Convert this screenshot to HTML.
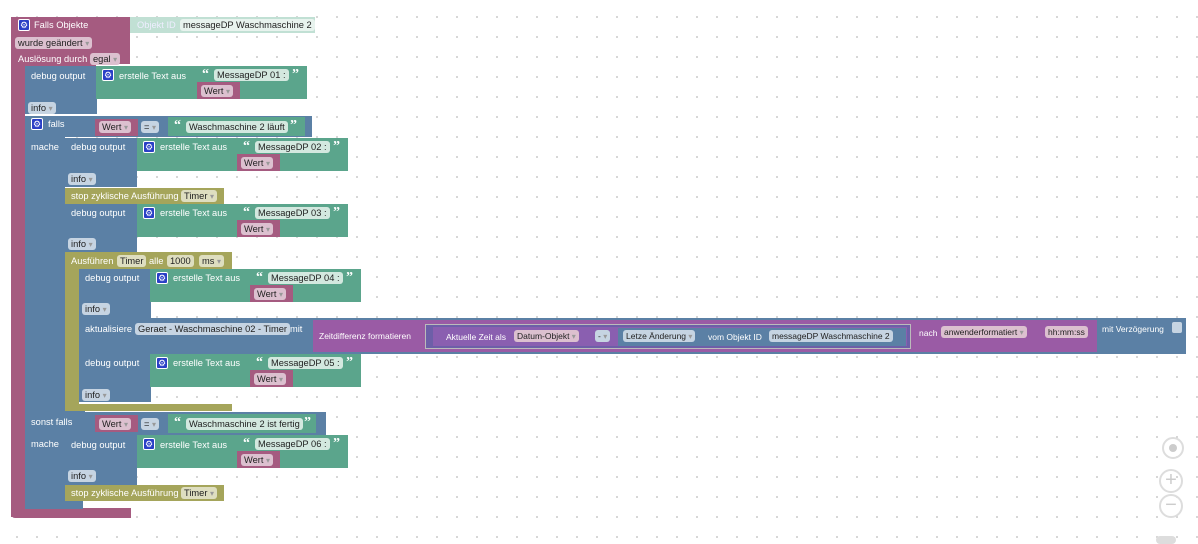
<!DOCTYPE html>
<html><head><meta charset="utf-8"><style>
body{margin:0;width:1198px;height:540px;overflow:hidden;background:#fff;
background-image:radial-gradient(circle,#cfcfcf 0.8px,transparent 1.2px);background-size:20px 20px;background-position:7px 7px;
font-family:"Liberation Sans",sans-serif;position:relative}
div{position:absolute;box-sizing:border-box}
span{color:#999;font-size:8px}
.t{color:#fff;font-size:9.3px;white-space:nowrap;line-height:12px}
.f{border-radius:3px;font-size:9.3px;color:#222;padding:0 3px;line-height:12px;height:12px;white-space:nowrap}
.pk{background:#a55b80}.bl{background:#5b80a5}.gr{background:#5ba58c}.ol{background:#a5a55b}.pu{background:#9a5ba5}
.fb{background:#c6d4e2}.fg{background:#d3e8df}.fp{background:#dcc0cf}.fo{background:#dedec0}
.g{width:12px;height:12px;background:#2a3fc6;border-radius:2px;border:1px solid #fff;color:#fff;font-size:9px;line-height:10px;text-align:center}
.q{color:#fff;font-size:14px;font-family:"Liberation Serif",serif;font-weight:bold;line-height:14px}
</style></head><body>

<!-- event block -->
<div class="pk" style="left:11px;top:17px;width:85px;height:49px;border-radius:4px 0 0 0"></div>
<div class="pk" style="left:96px;top:17px;width:34px;height:47px"></div>
<div class="pk" style="left:11px;top:17px;width:14px;height:500px"></div>
<div class="pk" style="left:11px;top:508px;width:120px;height:10px;border-radius:0 0 0 4px"></div>
<div class="g" style="left:18px;top:19px">⚙</div>
<div class="t" style="left:34px;top:19px">Falls Objekte</div>
<div style="left:130px;top:17px;width:185px;height:16px;background:#c1e0d4"></div>
<div class="t" style="left:137px;top:19px;color:#eef">Objekt ID</div>
<div class="f" style="left:180px;top:19px;background:#e8f3ee">messageDP Waschmaschine 2</div>
<div class="f fp" style="left:15px;top:37px">wurde geändert <span>▾</span></div>
<div class="t" style="left:18px;top:53px">Auslösung durch</div>
<div class="f fp" style="left:90px;top:53px">egal <span>▾</span></div>

<!-- debug 1 -->
<div class="bl" style="left:25px;top:66px;width:72px;height:48px"></div>
<div class="t" style="left:31px;top:70px">debug output</div>
<div class="f fb" style="left:28px;top:102px">info <span>▾</span></div>
<div class="gr" style="left:96px;top:66px;width:211px;height:33px"></div>
<div class="g" style="left:102px;top:69px">⚙</div>
<div class="t" style="left:119px;top:70px">erstelle Text aus</div>
<div class="q" style="left:202px;top:68px">“</div><div class="f fg" style="left:214px;top:69px">MessageDP 01 :</div><div class="q" style="left:292px;top:68px">”</div>
<div class="pk" style="left:197px;top:82px;width:43px;height:17px"></div><div class="f fp" style="left:201px;top:85px">Wert <span>▾</span></div>

<!-- falls block -->
<div class="bl" style="left:25px;top:116px;width:287px;height:21px"></div>
<div class="bl" style="left:25px;top:116px;width:40px;height:393px"></div>
<div class="bl" style="left:65px;top:405px;width:18px;height:104px"></div>
<div class="g" style="left:31px;top:118px">⚙</div>
<div class="t" style="left:48px;top:118px">falls</div>
<div class="pk" style="left:95px;top:119px;width:43px;height:17px"></div><div class="f fp" style="left:99px;top:121px">Wert <span>▾</span></div>
<div class="f fb" style="left:141px;top:121px">= <span>▾</span></div>
<div class="gr" style="left:168px;top:117px;width:137px;height:19px"></div>
<div class="q" style="left:174px;top:119px">“</div><div class="f fg" style="left:186px;top:121px">Waschmaschine 2 läuft</div><div class="q" style="left:290px;top:119px">”</div>
<div class="t" style="left:31px;top:141px">mache</div>

<!-- debug 2 -->
<div class="bl" style="left:65px;top:138px;width:72px;height:49px"></div>
<div class="t" style="left:71px;top:141px">debug output</div>
<div class="f fb" style="left:68px;top:173px">info <span>▾</span></div>
<div class="gr" style="left:137px;top:138px;width:211px;height:33px"></div>
<div class="g" style="left:143px;top:141px">⚙</div>
<div class="t" style="left:160px;top:141px">erstelle Text aus</div>
<div class="q" style="left:243px;top:140px">“</div><div class="f fg" style="left:255px;top:141px">MessageDP 02 :</div><div class="q" style="left:333px;top:140px">”</div>
<div class="pk" style="left:237px;top:154px;width:43px;height:17px"></div><div class="f fp" style="left:241px;top:157px">Wert <span>▾</span></div>

<div class="ol" style="left:65px;top:188px;width:159px;height:16px"></div>
<div class="t" style="left:71px;top:190px">stop zyklische Ausführung</div>
<div class="f fo" style="left:181px;top:190px">Timer <span>▾</span></div>

<!-- debug 3 -->
<div class="bl" style="left:65px;top:204px;width:72px;height:48px"></div>
<div class="t" style="left:71px;top:207px">debug output</div>
<div class="f fb" style="left:68px;top:238px">info <span>▾</span></div>
<div class="gr" style="left:137px;top:204px;width:211px;height:33px"></div>
<div class="g" style="left:143px;top:207px">⚙</div>
<div class="t" style="left:160px;top:207px">erstelle Text aus</div>
<div class="q" style="left:243px;top:206px">“</div><div class="f fg" style="left:255px;top:207px">MessageDP 03 :</div><div class="q" style="left:333px;top:206px">”</div>
<div class="pk" style="left:237px;top:220px;width:43px;height:17px"></div><div class="f fp" style="left:241px;top:223px">Wert <span>▾</span></div>

<!-- Ausführen -->
<div class="ol" style="left:65px;top:252px;width:167px;height:17px"></div>
<div class="ol" style="left:65px;top:252px;width:14px;height:158px"></div>
<div class="ol" style="left:65px;top:404px;width:167px;height:7px"></div>
<div class="t" style="left:71px;top:255px">Ausführen</div>
<div class="f fo" style="left:117px;top:255px">Timer</div>
<div class="t" style="left:149px;top:255px">alle</div>
<div class="f fo" style="left:167px;top:255px">1000</div>
<div class="f fo" style="left:199px;top:255px">ms <span>▾</span></div>

<!-- debug 4 -->
<div class="bl" style="left:79px;top:269px;width:72px;height:49px"></div>
<div class="t" style="left:85px;top:272px">debug output</div>
<div class="f fb" style="left:82px;top:303px">info <span>▾</span></div>
<div class="gr" style="left:150px;top:269px;width:211px;height:33px"></div>
<div class="g" style="left:156px;top:272px">⚙</div>
<div class="t" style="left:173px;top:272px">erstelle Text aus</div>
<div class="q" style="left:256px;top:271px">“</div><div class="f fg" style="left:268px;top:272px">MessageDP 04 :</div><div class="q" style="left:346px;top:271px">”</div>
<div class="pk" style="left:250px;top:285px;width:43px;height:17px"></div><div class="f fp" style="left:254px;top:288px">Wert <span>▾</span></div>

<!-- aktualisiere -->
<div class="bl" style="left:79px;top:318px;width:1107px;height:36px"></div>
<div class="t" style="left:85px;top:323px">aktualisiere</div>
<div class="f fb" style="left:135px;top:323px">Geraet - Waschmaschine 02 - Timer</div>
<div class="t" style="left:290px;top:323px">mit</div>
<div class="pu" style="left:313px;top:320px;width:784px;height:32px"></div>
<div class="t" style="left:319px;top:330px;font-size:8.5px">Zeitdifferenz formatieren</div>
<div style="left:425px;top:324px;width:486px;height:25px;background:#6d5fa8;border:1px solid #bbb"></div>
<div style="left:433px;top:327px;width:474px;height:19px;background:#8a5fb0"></div>
<div class="t" style="left:446px;top:331px;font-size:8.5px">Aktuelle Zeit als</div>
<div class="f fp" style="left:514px;top:330px;font-size:8.5px">Datum-Objekt <span>▾</span></div>
<div class="f fb" style="left:595px;top:330px;font-size:8.5px">- <span>▾</span></div>
<div style="left:618px;top:328px;width:288px;height:18px;background:#5b80a5"></div>
<div class="f fb" style="left:623px;top:330px;font-size:8.5px">Letze Änderung <span>▾</span></div>
<div class="t" style="left:708px;top:331px;font-size:8.5px">vom Objekt ID</div>
<div class="f fb" style="left:769px;top:330px;font-size:8.5px">messageDP Waschmaschine 2</div>
<div class="t" style="left:919px;top:327px;font-size:8.5px">nach</div>
<div class="f fp" style="left:941px;top:326px;font-size:8.5px">anwenderformatiert <span>▾</span></div>
<div class="f fp" style="left:1045px;top:326px;font-size:8.5px">hh:mm:ss</div>
<div class="t" style="left:1102px;top:323px;font-size:8.5px">mit Verzögerung</div>
<div style="left:1172px;top:322px;width:10px;height:11px;background:#c6d4e2;border-radius:2px"></div>

<!-- debug 5 -->
<div class="bl" style="left:79px;top:354px;width:72px;height:48px"></div>
<div class="t" style="left:85px;top:357px">debug output</div>
<div class="f fb" style="left:82px;top:389px">info <span>▾</span></div>
<div class="gr" style="left:150px;top:354px;width:211px;height:33px"></div>
<div class="g" style="left:156px;top:357px">⚙</div>
<div class="t" style="left:173px;top:357px">erstelle Text aus</div>
<div class="q" style="left:256px;top:356px">“</div><div class="f fg" style="left:268px;top:357px">MessageDP 05 :</div><div class="q" style="left:346px;top:356px">”</div>
<div class="pk" style="left:250px;top:370px;width:43px;height:17px"></div><div class="f fp" style="left:254px;top:373px">Wert <span>▾</span></div>

<!-- sonst falls -->
<div class="bl" style="left:25px;top:411px;width:60px;height:30px"></div>
<div class="bl" style="left:83px;top:412px;width:243px;height:25px"></div>
<div class="t" style="left:31px;top:416px">sonst falls</div>
<div class="pk" style="left:95px;top:415px;width:43px;height:17px"></div><div class="f fp" style="left:99px;top:418px">Wert <span>▾</span></div>
<div class="f fb" style="left:141px;top:418px">= <span>▾</span></div>
<div class="gr" style="left:168px;top:414px;width:148px;height:19px"></div>
<div class="q" style="left:174px;top:416px">“</div><div class="f fg" style="left:186px;top:418px">Waschmaschine 2 ist fertig</div><div class="q" style="left:304px;top:416px">”</div>
<div class="t" style="left:31px;top:438px">mache</div>

<!-- debug 6 -->
<div class="bl" style="left:65px;top:435px;width:72px;height:50px"></div>
<div class="t" style="left:71px;top:439px">debug output</div>
<div class="f fb" style="left:68px;top:470px">info <span>▾</span></div>
<div class="gr" style="left:137px;top:435px;width:211px;height:33px"></div>
<div class="g" style="left:143px;top:438px">⚙</div>
<div class="t" style="left:160px;top:439px">erstelle Text aus</div>
<div class="q" style="left:243px;top:437px">“</div><div class="f fg" style="left:255px;top:438px">MessageDP 06 :</div><div class="q" style="left:333px;top:437px">”</div>
<div class="pk" style="left:237px;top:451px;width:43px;height:17px"></div><div class="f fp" style="left:241px;top:454px">Wert <span>▾</span></div>

<div class="ol" style="left:65px;top:485px;width:159px;height:16px"></div>
<div class="t" style="left:71px;top:487px">stop zyklische Ausführung</div>
<div class="f fo" style="left:181px;top:487px">Timer <span>▾</span></div>

<!-- controls -->
<div style="left:1162px;top:437px;width:22px;height:22px;border:2px solid #ddd;border-radius:50%"></div>
<div style="left:1169px;top:444px;width:8px;height:8px;background:#ccc;border-radius:50%"></div>
<div style="left:1159px;top:469px;width:24px;height:24px;border:2px solid #ddd;border-radius:50%;color:#ccc;font-size:20px;line-height:19px;text-align:center">+</div>
<div style="left:1159px;top:494px;width:24px;height:24px;border:2px solid #ddd;border-radius:50%;color:#ccc;font-size:20px;line-height:18px;text-align:center">−</div>
<div style="left:1156px;top:536px;width:20px;height:8px;background:#ddd;border-radius:4px"></div>
</body></html>
